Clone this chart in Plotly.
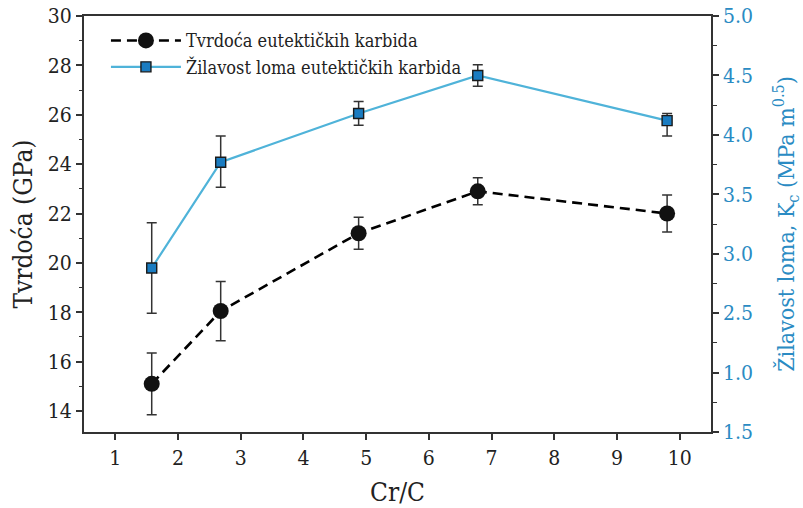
import plotly.graph_objects as go

# Cr/C ratio of the tested alloys
cr_c = [1.58, 2.68, 4.88, 6.78, 9.80]

# Hardness of eutectic carbides (GPa) with error bars
tvrdoca = [15.1, 18.05, 21.2, 22.9, 22.0]
tvrdoca_err = [1.25, 1.2, 0.65, 0.55, 0.75]

# Fracture toughness of eutectic carbides (MPa m^0.5) with asymmetric error bars
zilavost = [2.88, 3.77, 4.18, 4.50, 4.12]
zilavost_err_plus = [0.38, 0.22, 0.10, 0.09, 0.06]
zilavost_err_minus = [0.38, 0.21, 0.10, 0.09, 0.13]

# Tick labels of the two y axes
left_ticks = [14, 16, 18, 20, 22, 24, 26, 28, 30]
right_tickvals = [1.5, 2.0, 2.5, 3.0, 3.5, 4.0, 4.5, 5.0]
right_ticktext = ["1.5", "1.0", "2.5", "3.0", "3.5", "4.0", "4.5", "5.0"]

FONT = "DejaVu Serif Condensed, Liberation Serif, serif"
AXIS = "#333333"
BLUE_TXT = "#2a8bc3"

fig = go.Figure()

fig.add_trace(go.Scatter(
    x=cr_c, y=tvrdoca, name="Tvrdoća eutektičkih karbida",
    mode="lines+markers",
    line=dict(color="black", width=2.6, dash="10px,6px"),
    marker=dict(symbol="circle", size=16, color="#111111"),
    error_y=dict(type="data", array=tvrdoca_err, color=AXIS, thickness=1.5, width=5),
    yaxis="y",
))

fig.add_trace(go.Scatter(
    x=cr_c, y=zilavost, name="Žilavost loma eutektičkih karbida",
    mode="lines+markers",
    line=dict(color="#4fb3d9", width=2.2),
    marker=dict(symbol="square", size=10, color="#1a7cc1",
                line=dict(color="#1a1a1a", width=1.4)),
    error_y=dict(type="data", symmetric=False, array=zilavost_err_plus,
                 arrayminus=zilavost_err_minus, color=AXIS, thickness=1.5, width=5),
    yaxis="y2",
))

fig.update_layout(
    width=803, height=508,
    margin=dict(l=84, r=92, t=16, b=76),
    paper_bgcolor="white", plot_bgcolor="white",
    font=dict(family=FONT, color="#222222", size=18),
    showlegend=True,
    legend=dict(x=0.035, y=0.985, xanchor="left", yanchor="top",
                bgcolor="rgba(0,0,0,0)", font=dict(size=18, color="#222222"),
                tracegroupgap=0, itemwidth=70),
    xaxis=dict(
        range=[0.5, 10.5], tickmode="array", tickvals=list(range(1, 11)),
        ticks="outside", ticklen=6, tickwidth=1.5, tickcolor=AXIS,
        showline=True, linecolor=AXIS, linewidth=1.8, mirror=True,
        showgrid=False, zeroline=False, automargin=False,
        tickfont=dict(size=21),
        title=dict(text="Cr/C", font=dict(size=26), standoff=14),
    ),
    yaxis=dict(
        range=[13.15, 30], tickmode="array", tickvals=left_ticks,
        ticks="outside", ticklen=6, tickwidth=1.5, tickcolor=AXIS,
        minor=dict(tickmode="linear", tick0=13, dtick=2, ticks="outside",
                   ticklen=3, tickwidth=1.2, tickcolor=AXIS),
        showline=True, linecolor=AXIS, linewidth=1.8,
        showgrid=False, zeroline=False, automargin=False,
        tickfont=dict(size=21),
        title=dict(text="Tvrdoća (GPa)", font=dict(size=26), standoff=8),
    ),
    yaxis2=dict(
        overlaying="y", side="right",
        range=[1.5, 5.0], tickmode="array", tickvals=right_tickvals,
        ticktext=right_ticktext,
        ticks="outside", ticklen=6, tickwidth=1.5, tickcolor=AXIS,
        minor=dict(tickmode="linear", tick0=1.75, dtick=0.5, ticks="outside",
                   ticklen=4, tickwidth=1.2, tickcolor=AXIS),
        showline=True, linecolor=AXIS, linewidth=1.8,
        showgrid=False, zeroline=False, automargin=False,
        tickfont=dict(size=21, color=BLUE_TXT),
        title=dict(text="Žilavost loma, K<sub>c</sub> (MPa m<sup>0.5</sup>)",
                   font=dict(size=23, color=BLUE_TXT), standoff=32),
    ),
)

fig.write_html("out.html")
